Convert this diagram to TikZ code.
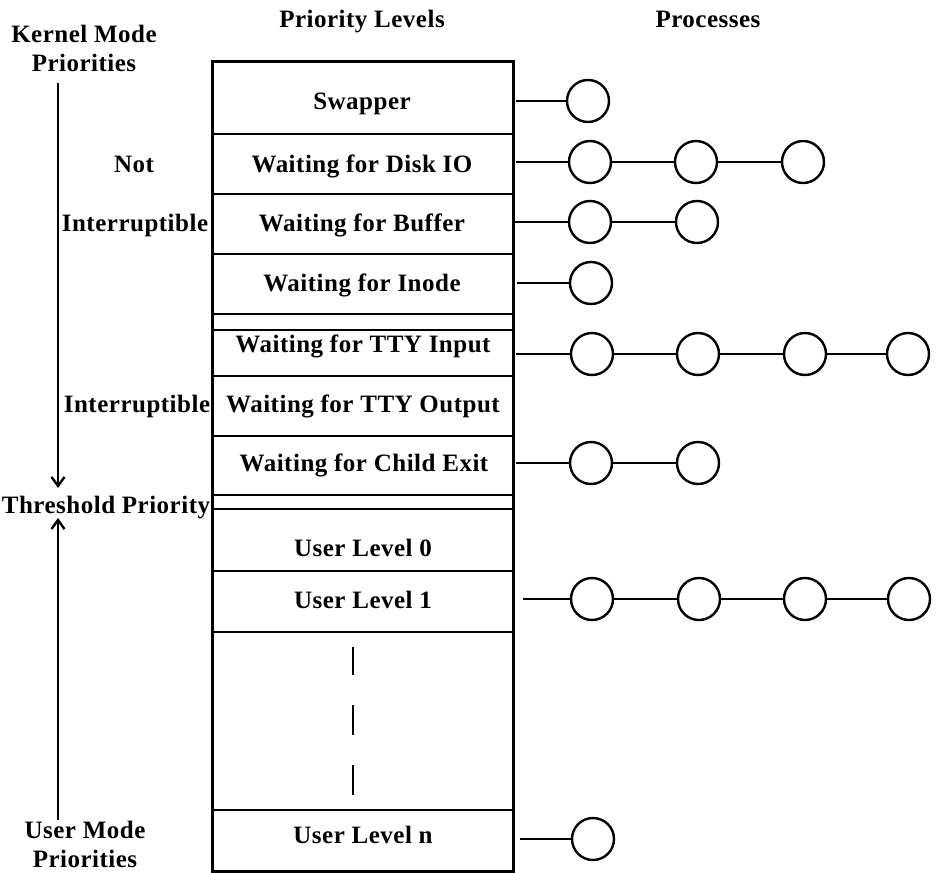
\documentclass[tikz,border=0pt]{standalone}
\usepackage{fontspec}
\setmainfont{Liberation Serif}[LetterSpace=2]
\usetikzlibrary{arrows.meta}
\begin{document}
\begin{tikzpicture}[x=1pt,y=-1pt,
  lbl/.style={font=\bfseries\fontsize{25}{29}\selectfont, anchor=base, inner sep=0pt, align=center},
  rowline/.style={line width=2.6pt},
  proc/.style={circle, draw, line width=2.4pt, minimum size=42pt, inner sep=0pt},
  link/.style={line width=2.4pt},
  arr/.style={line width=2.4pt, -{Straight Barb[length=9pt,width=13pt,line width=2.4pt]}}]
\path[use as bounding box] (0,0) rectangle (938,873);

% headers
\node[lbl] (hprio) at (362,27) {Priority Levels};
\node[lbl] (hproc) at (708,27) {Processes};

% table frame
\node[draw, line width=2.6pt, minimum width=301pt, minimum height=810pt, anchor=north west, inner sep=0pt] (tbl) at (211,60) {};
\foreach \yy in {134,194,254,314,330,376,436,495,509,571,632,810}
  \draw[rowline] (211,\yy) -- (513,\yy);

% row labels
\node[lbl] (swap) at (362,109) {Swapper};
\node[lbl] (disk) at (362,172) {Waiting for Disk IO};
\node[lbl] (buf)  at (362,231) {Waiting for Buffer};
\node[lbl] (ino)  at (362,291) {Waiting for Inode};
\node[lbl] (ttyi) at (363,352) {Waiting for TTY Input};
\node[lbl] (ttyo) at (363,412) {Waiting for TTY Output};
\node[lbl] (chld) at (364,471) {Waiting for Child Exit};
\node[lbl] (ul0)  at (363,556) {User Level 0};
\node[lbl] (ul1)  at (363,608) {User Level 1};
\node[lbl] (uln)  at (363,843) {User Level n};

% vertical dashes
\draw[line width=2.6pt] (353,647) -- (353,675);
\draw[line width=2.6pt] (353,705) -- (353,735);
\draw[line width=2.6pt] (353,765) -- (353,795);

% left labels
\node[lbl] (kmp) at (84,71) {Kernel Mode\\Priorities};
\node[lbl] (not) at (134,172) {Not};
\node[lbl] (int1) at (135,231) {Interruptible};
\node[lbl] (int2) at (137,412) {Interruptible};
\node[lbl] (thr) at (106,513) {Threshold Priority};
\node[lbl] (ump) at (85,867) {User Mode\\Priorities};

\coordinate (ka) at (58,83);
\coordinate (kb) at (58,488);
\coordinate (ua) at (58,820);
\coordinate (ub) at (58,518);
\draw[arr] (ka) -- (kb);
\draw[arr] (ua) -- (ub);

% processes
% Swapper
\coordinate (s0) at (516,101);
\node[proc] (s1) at (588,101) {};
\draw[link] (s0) -- (s1);
% Disk IO
\coordinate (d0) at (516,162);
\node[proc] (d1) at (590,162) {};
\node[proc] (d2) at (696,162) {};
\node[proc] (d3) at (803,162) {};
\draw[link] (d0) -- (d1) -- (d2) -- (d3);
% Buffer
\coordinate (b0) at (515,222);
\node[proc] (b1) at (590,222) {};
\node[proc] (b2) at (697,222) {};
\draw[link] (b0) -- (b1) -- (b2);
% Inode
\coordinate (i0) at (517,283);
\node[proc] (i1) at (591,283) {};
\draw[link] (i0) -- (i1);
% TTY Input
\coordinate (t0) at (516,354);
\node[proc] (t1) at (592,354) {};
\node[proc] (t2) at (698,354) {};
\node[proc] (t3) at (805,354) {};
\node[proc] (t4) at (908,354) {};
\draw[link] (t0) -- (t1) -- (t2) -- (t3) -- (t4);
% Child Exit
\coordinate (c0) at (516,463);
\node[proc] (c1) at (591,463) {};
\node[proc] (c2) at (698,463) {};
\draw[link] (c0) -- (c1) -- (c2);
% User Level 1
\coordinate (u0) at (523,599);
\node[proc] (u1) at (592,599) {};
\node[proc] (u2) at (699,599) {};
\node[proc] (u3) at (805,599) {};
\node[proc] (u4) at (909,599) {};
\draw[link] (u0) -- (u1) -- (u2) -- (u3) -- (u4);
% User Level n
\coordinate (n0) at (520,839);
\node[proc] (n1) at (593,839) {};
\draw[link] (n0) -- (n1);
\end{tikzpicture}
\end{document}
